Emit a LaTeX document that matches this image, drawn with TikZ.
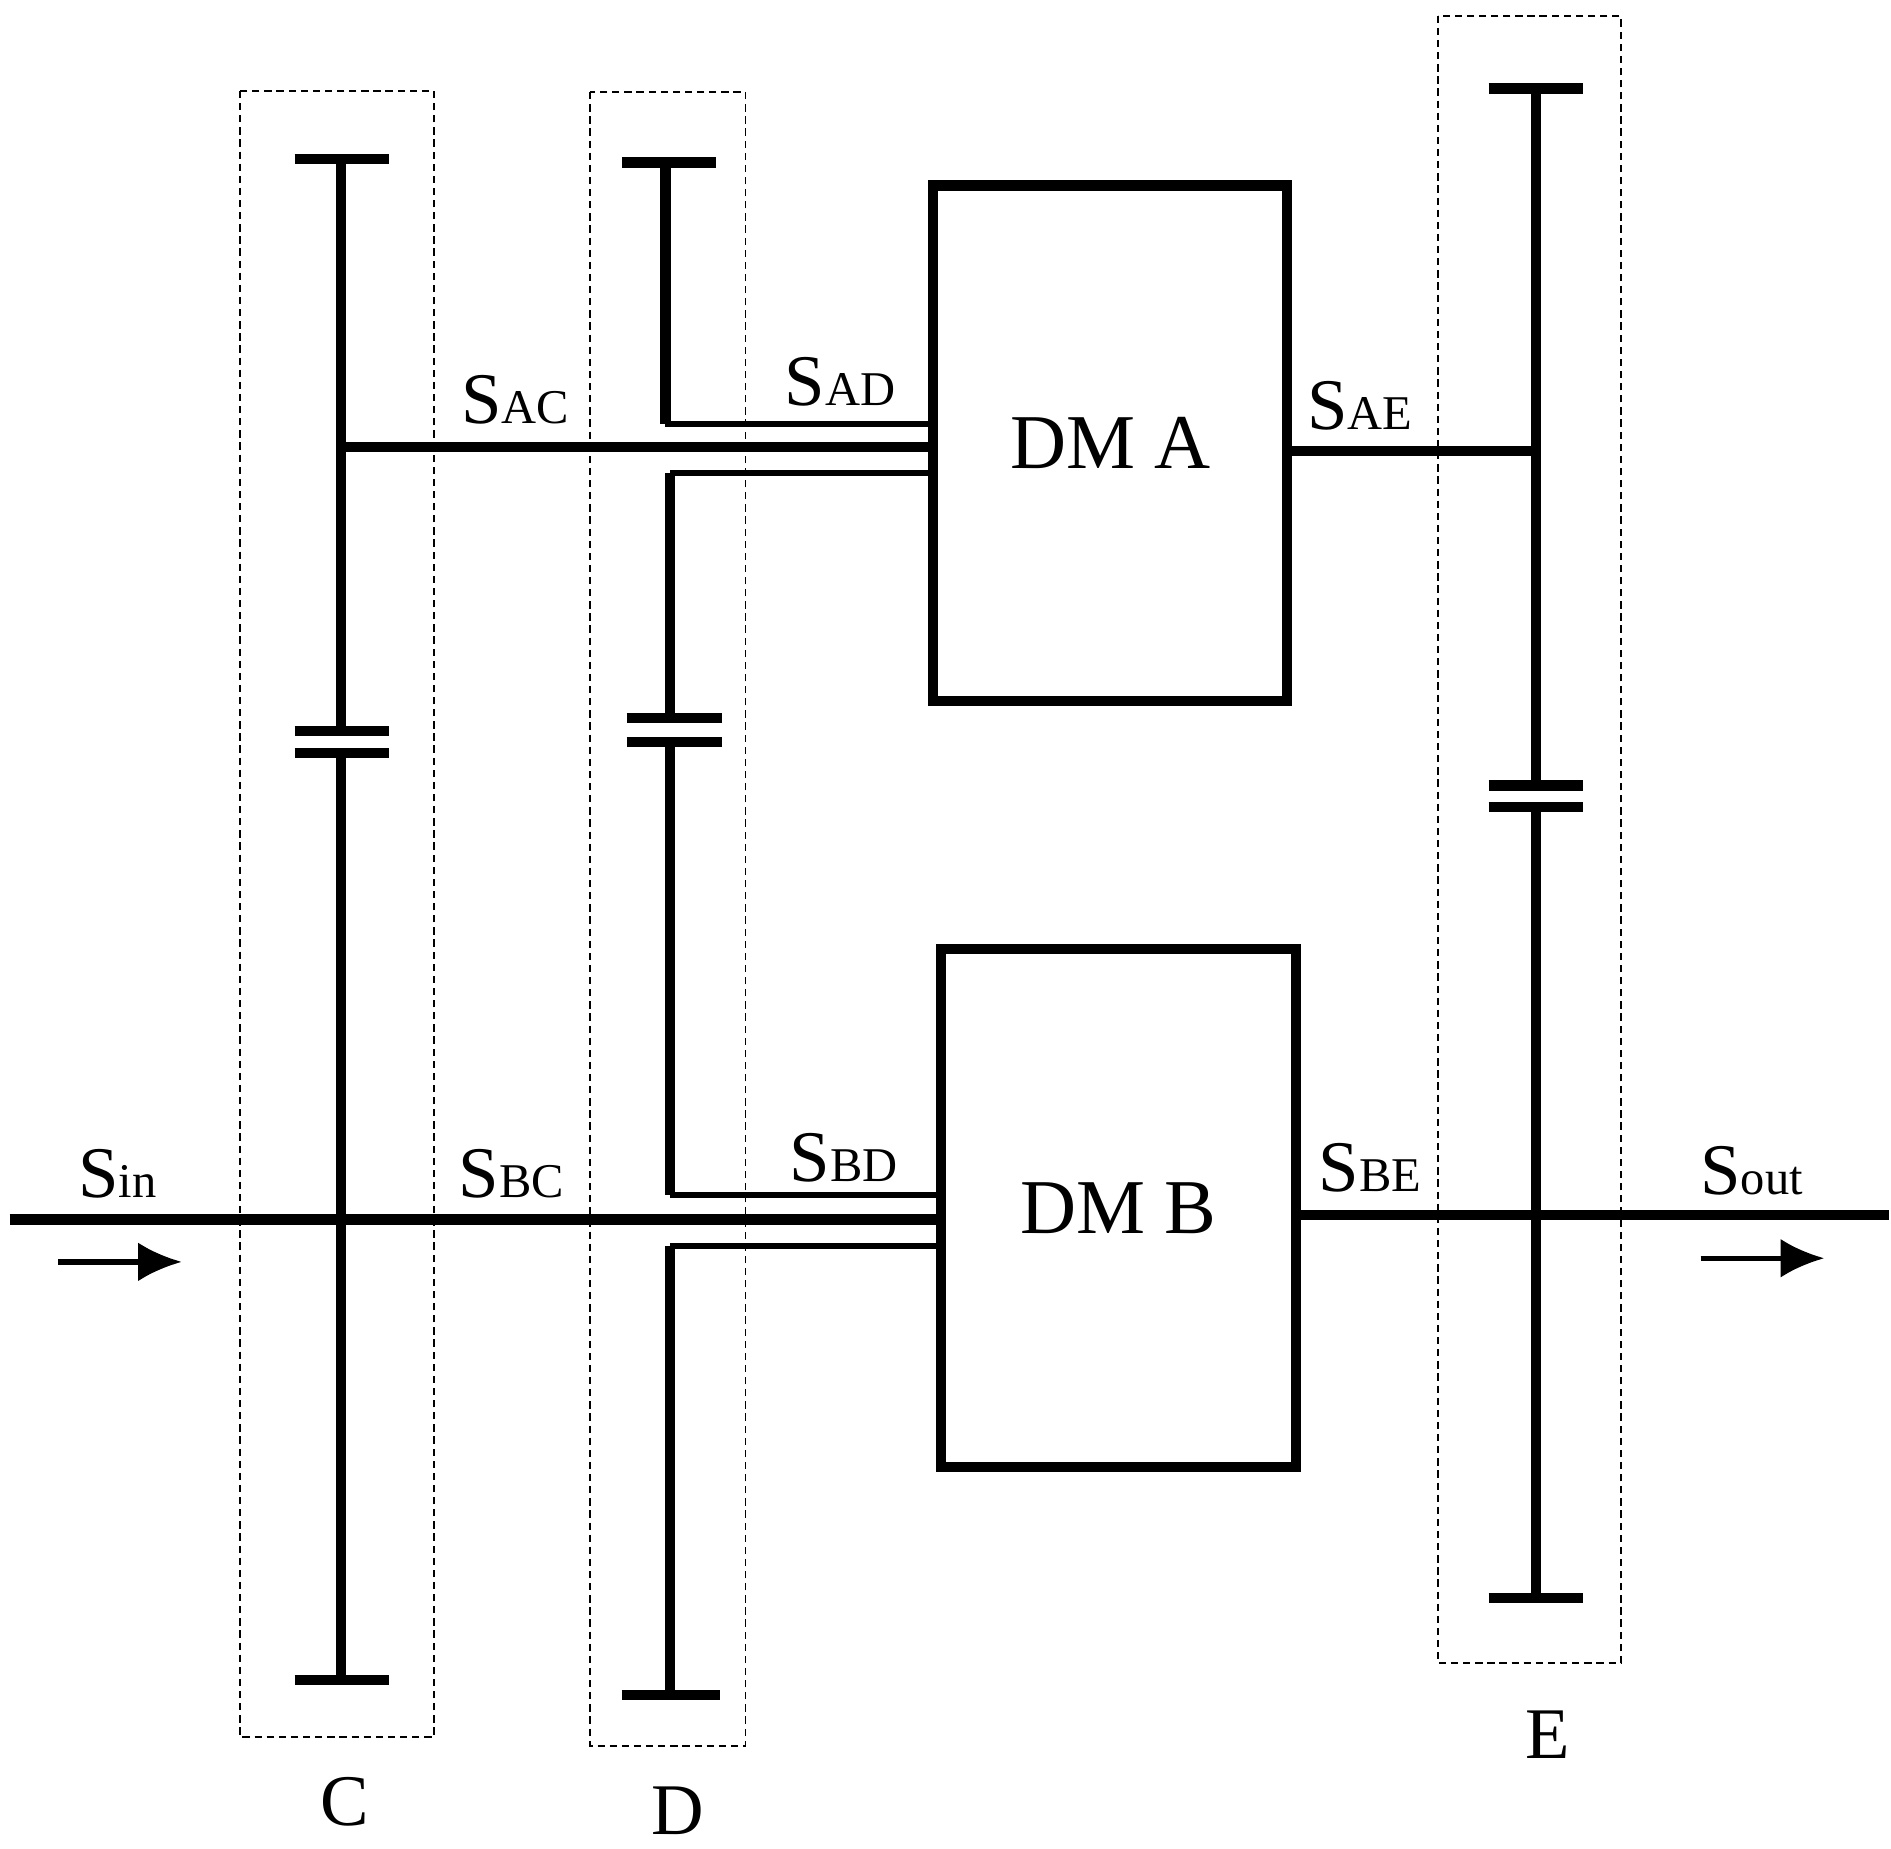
\documentclass[tikz,border=0pt]{standalone}
\usepackage{fontspec}
\setmainfont{Liberation Serif}
\usetikzlibrary{arrows.meta}
\begin{document}
\begin{tikzpicture}[x=0.5pt,y=-0.5pt,
 thick/.style={line width=4.2pt},
 thin2/.style={line width=2.4pt},
 dbox/.style={line width=0.8pt,dash pattern=on 3pt off 2pt},
 lab/.style={font=\fontsize{30}{36}\selectfont,inner sep=0pt},
 big/.style={font=\fontsize{32}{38}\selectfont,inner sep=0pt}]
\useasboundingbox (0,0) rectangle (1560,1525);
\newcommand{\shl}[1]{S{\fontsize{20}{24}\selectfont #1}}
% dashed boxes
\draw[dbox] (198,75) rectangle (358,1433);
\draw[dbox] (487,76) rectangle (615,1440);
\draw[dbox] (1186,13) rectangle (1337,1372);
% DM boxes
\node[draw,thick,minimum width=146pt,minimum height=212.5pt,big] (A) at (916,365.5) {DM A};
\node[draw,thick,minimum width=146.5pt,minimum height=213.5pt,big] (B) at (922.5,996.5) {DM B};
% gear C
\coordinate (c1) at (281,131); \coordinate (c2) at (281,603);
\coordinate (c3) at (281,621); \coordinate (c4) at (281,1386);
\draw[thick] (c1)--(c2) (c3)--(c4);
\draw[thick] (243,131)--(321,131) (243,1386)--(321,1386) (243,603)--(321,603) (243,621)--(321,621);
% shaft AC
\coordinate (ac) at (281,369);
\draw[thick] (ac)--(A.west|-ac);
% D upper
\draw[thick] (513,134)--(591,134);
\draw[thick] (549,134)--(549,350);
\draw[thin2] (549,350)--(A.west|-0,350);
% D middle
\draw[thin2] (A.west|-0,390)--(553,390);
\draw[thick] (553,390)--(553,592) (553,612)--(553,986);
\draw[thick] (517,592)--(596,592) (517,612)--(596,612);
\draw[thin2] (553,986)--(B.west|-0,986);
% D lower
\draw[thin2] (B.west|-0,1028)--(553,1028);
\draw[thick] (553,1028)--(553,1398);
\draw[thick] (513,1398)--(594,1398);
% input shaft
\coordinate (in) at (8,1006);
\draw[thick] (in)--(B.west|-in);
% E
\draw[thick] (1267,73)--(1267,648) (1267,666)--(1267,1318);
\draw[thick] (1228,73)--(1306,73) (1228,1318)--(1306,1318) (1228,648)--(1306,648) (1228,666)--(1306,666);
\coordinate (ae) at (1267,372);
\draw[thick] (A.east|-ae)--(ae);
\coordinate (out) at (1558,1002);
\draw[thick] (B.east|-out)--(out);
% arrows
\draw[line width=2.2pt,-{Latex[length=18pt,width=16pt]}] (48,1041)--(150,1041);
\draw[line width=2.2pt,-{Latex[length=18pt,width=16pt]}] (1403,1038)--(1505,1038);
% labels
\node[lab] (l1) at (97,968) {\shl{in}};
\node[lab] (l2) at (425,330) {\shl{AC}};
\node[lab] (l3) at (693,315) {\shl{AD}};
\node[lab] (l4) at (1122,335) {\shl{AE}};
\node[lab] (l5) at (422,968) {\shl{BC}};
\node[lab] (l6) at (696,955) {\shl{BD}};
\node[lab] (l7) at (1130,963) {\shl{BE}};
\node[lab] (l8) at (1445,966) {\shl{out}};
\node[lab] (lc) at (284,1486) {C};
\node[lab] (ld) at (559,1494) {D};
\node[lab] (le) at (1277,1431) {E};
\end{tikzpicture}
\end{document}
